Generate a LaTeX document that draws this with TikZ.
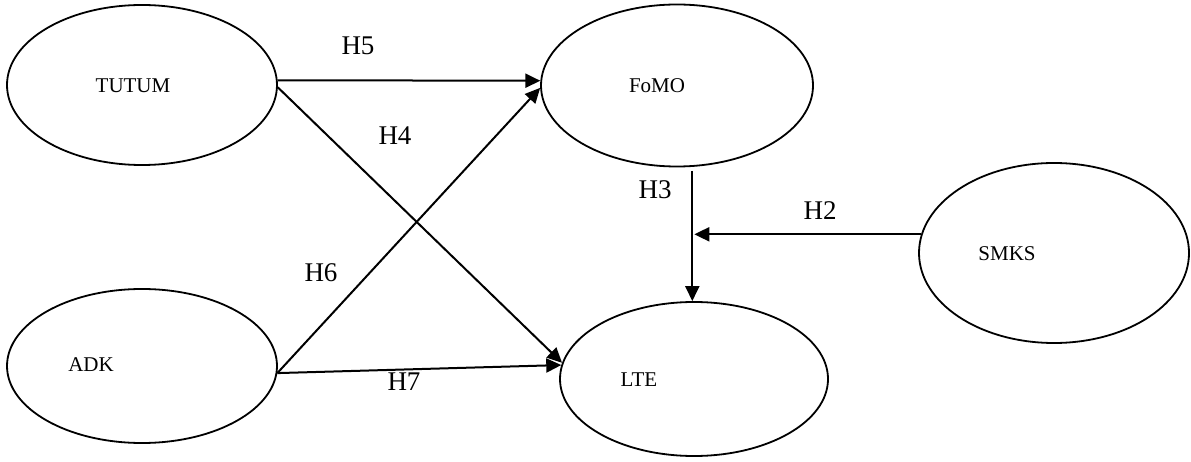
\documentclass[tikz,border=0pt]{standalone}
\usepackage{fontspec}
\setmainfont{Liberation Serif}
\usetikzlibrary{shapes.geometric,arrows.meta}
\tikzset{
  construct/.style={draw=black, line width=1.8pt, ellipse, inner sep=0pt},
  ctext/.style={inner sep=0pt, font=\fontsize{21}{25}\selectfont},
  hlabel/.style={inner sep=0pt, font=\fontsize{27}{32}\selectfont},
  arr/.style={draw=black, line width=2pt, -{Triangle[length=15pt,width=14pt]}}
}
\begin{document}
\begin{tikzpicture}[x=1pt,y=-1pt]
\useasboundingbox (0,0) rectangle (1191,462);
% constructs
\node[construct, minimum width=270pt, minimum height=160pt] (tutum) at (142,85) {};
\node[construct, minimum width=272pt, minimum height=162pt] (fomo) at (677,85.5) {};
\node[construct, minimum width=270pt, minimum height=154pt] (adk) at (142,366) {};
\node[construct, minimum width=268pt, minimum height=154pt] (lte) at (694,379) {};
\node[construct, minimum width=270pt, minimum height=180pt] (smks) at (1054,253) {};
% texts
\node[ctext] (ttutum) at (133,86) {TUTUM};
\node[ctext] (tfomo) at (657,86) {FoMO};
\node[ctext] (tadk) at (91,365) {ADK};
\node[ctext] (tlte) at (639,380) {LTE};
\node[ctext] (tsmks) at (1007,254) {SMKS};
% connectors
\draw[arr] (tutum.2) -- (fomo.178);
\draw[arr] (tutum.-1) -- (lte.173);
\draw[arr] (adk.-3) -- (fomo.181);
\draw[arr] (adk.-3) -- (lte.174.5);
\coordinate (h3top) at (692.3,171);
\draw[arr] (h3top) -- (h3top |- lte.north);
\draw[arr] (smks.172) -- ([xshift=2pt]h3top |- smks.172);
% labels
\node[hlabel] (lh5) at (358,46) {H5};
\node[hlabel] (lh4) at (395,136) {H4};
\node[hlabel] (lh6) at (321,272.5) {H6};
\node[hlabel] (lh7) at (404,382) {H7};
\node[hlabel] (lh3) at (655,190) {H3};
\node[hlabel] (lh2) at (820,211) {H2};
\end{tikzpicture}
\end{document}
